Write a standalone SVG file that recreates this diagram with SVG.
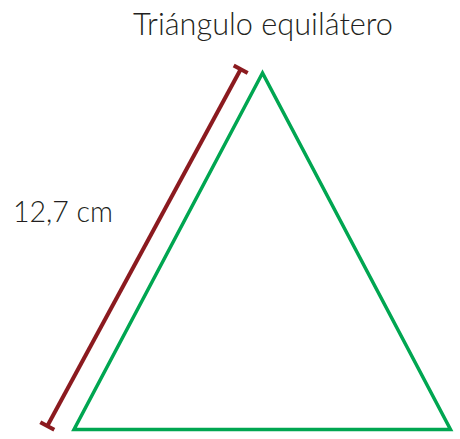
<svg xmlns="http://www.w3.org/2000/svg" width="460" height="439" viewBox="0 0 460 439">
<style>
text{font-family:"Lato","Liberation Sans",Arial,sans-serif;font-weight:300;fill:#231f20}
.tri{fill:none;stroke:#00a651;stroke-width:3.5;stroke-linejoin:miter}
.dim{stroke:#8b1a1f;stroke-width:4;fill:none}
</style>
<rect width="460" height="439" fill="#fff"/>
<g id="title"><text x="263" y="35" font-size="31" text-anchor="middle" textLength="260" lengthAdjust="spacingAndGlyphs">Triángulo equilátero</text></g>
<g id="triangle"><polygon class="tri" points="262.5,73 74,429.5 450.5,429.5"/></g>
<g id="connectors">
<line class="dim" x1="240.7" y1="69.3" x2="47.3" y2="426"/>
<line class="dim" x1="233.7" y1="65.5" x2="247.7" y2="73.1"/>
<line class="dim" x1="40.3" y1="422.2" x2="54.3" y2="429.8"/>
</g>
<g id="label"><text x="13" y="222" font-size="29" textLength="100" lengthAdjust="spacingAndGlyphs">12,7 cm</text></g>
</svg>
